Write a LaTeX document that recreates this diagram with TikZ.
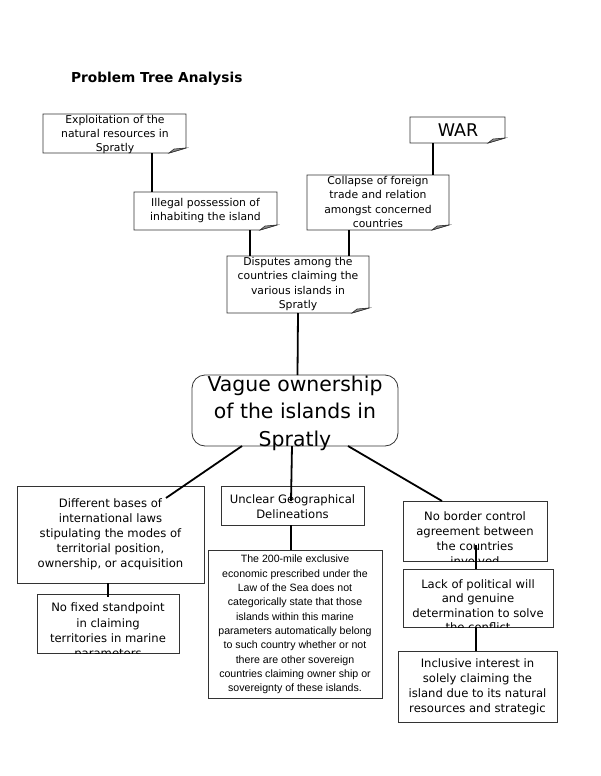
\documentclass[tikz,border=0pt]{standalone}
\usepackage{fontspec}
\setmainfont{DejaVu Sans}
\newfontfamily\arialf{Liberation Sans}
\begin{document}
\begin{tikzpicture}[x=1pt,y=-1pt,
  box/.style={draw=black!80,line width=0.8pt,inner sep=0pt,outer sep=0pt},
  ghost/.style={draw=none,inner sep=0pt,outer sep=0pt},
  conn/.style={draw=black,line width=1.8pt},
  txt/.style={inner sep=0pt,align=center,font=\fontsize{10.8}{14.3}\selectfont},
  txtb/.style={inner sep=0pt,align=center,font=\fontsize{11.6}{15.2}\selectfont},
  fold/.style={fill=black!45,draw=black!80,line width=0.6pt},
  outline/.style={draw=black!80,line width=0.8pt}]
\useasboundingbox[fill=white] (0,0) rectangle (600,776);

% title
\node[anchor=west,inner sep=0pt,font=\bfseries\fontsize{13.7}{16}\selectfont] (title) at (71,78.5) {Problem Tree Analysis};

% ---------- boxes with folded corner ----------
\node[ghost,minimum width=143pt,minimum height=39pt] (ex) at (114.5,133.5) {};
\node[ghost,minimum width=143pt,minimum height=38pt] (il) at (205.5,211) {};
\node[ghost,minimum width=95pt,minimum height=26pt] (war) at (457.5,130) {};
\node[ghost,minimum width=142pt,minimum height=55pt] (col) at (378,202.5) {};
\node[ghost,minimum width=142pt,minimum height=57pt] (dis) at (298,284.5) {};

\foreach \n in {ex,il,war,col,dis}{
  \draw[outline] (\n.north west) -- (\n.north east) -- ([yshift=5pt]\n.south east)
     -- ([xshift=-17pt]\n.south east) -- (\n.south west) -- cycle;
  \filldraw[fold] ([xshift=-17pt]\n.south east) -- ([yshift=5pt]\n.south east)
     -- ([xshift=-12pt,yshift=4pt]\n.south east) -- cycle;
}

% ---------- plain boxes ----------
\node[box,rounded corners=13pt,minimum width=206pt,minimum height=71pt] (vag) at (295,410.5) {};
\node[box,minimum width=187pt,minimum height=97pt] (dif) at (110.5,534.5) {};
\node[box,minimum width=143pt,minimum height=39pt] (unc) at (292.5,505.5) {};
\node[box,minimum width=144pt,minimum height=60pt] (nob) at (475,531) {};
\node[box,minimum width=142pt,minimum height=59pt] (nof) at (108,623.5) {};
\node[box,minimum width=174pt,minimum height=148pt] (sea) at (295,624) {};
\node[box,minimum width=150pt,minimum height=58pt] (lak) at (478,598) {};
\node[box,minimum width=159pt,minimum height=71pt] (inc) at (477.5,686.5) {};

% ---------- texts (clipped to their boxes) ----------
\begin{scope}\clip (ex.south west) rectangle (ex.north east);
\node[txt] (tex) at (115,134.5) {Exploitation of the\\natural resources in\\Spratly};
\end{scope}
\node[txt] (til) at (205.5,210.5) {Illegal possession of\\inhabiting the island};
\node[inner sep=0pt,font=\fontsize{17.5}{20}\selectfont] (twar) at (458,130.5) {WAR};
\begin{scope}\clip (col.south west) rectangle (col.north east);
\node[txt] (tcol) at (378,202) {Collapse of foreign\\trade and relation\\amongst concerned\\countries};
\end{scope}
\begin{scope}\clip (dis.south west) rectangle (dis.north east);
\node[txt] (tdis) at (298,284) {Disputes among the\\countries claiming the\\various islands in\\Spratly};
\end{scope}
\node[inner sep=0pt,align=center,font=\fontsize{20.4}{27.5}\selectfont] (tvag) at (295,413) {Vague ownership\\of the islands in\\Spratly};
\node[txtb,font=\fontsize{11.6}{15}\selectfont] (tdif) at (110.5,534) {Different bases of\\international laws\\stipulating the modes of\\territorial position,\\ownership, or acquisition};
\node[txtb,font=\fontsize{11.6}{15}\selectfont] (tunc) at (292.5,506.5) {Unclear Geographical\\Delineations};
\begin{scope}\clip (nob.south west) rectangle (nob.north east);
\node[txtb] (tnob) at (475,538.5) {No border control\\agreement between\\the countries\\involved};
\end{scope}
\begin{scope}\clip (nof.south west) rectangle (nof.north east);
\node[txtb] (tnof) at (108,631.5) {No fixed standpoint\\in claiming\\territories in marine\\parameters};
\end{scope}
\node[txt,font=\arialf\fontsize{10.6}{14.33}\selectfont] (tsea) at (295,624.5) {The 200-mile exclusive\\economic prescribed under the\\Law of the Sea does not\\categorically state that those\\islands within this marine\\parameters automatically belong\\to such country whether or not\\there are other sovereign\\countries claiming owner ship or\\sovereignty of these islands.};
\begin{scope}\clip (lak.south west) rectangle (lak.north east);
\node[txtb,font=\fontsize{11.6}{14.5}\selectfont] (tlak) at (478,605.5) {Lack of political will\\and genuine\\determination to solve\\the conflict};
\end{scope}
\node[txtb,font=\fontsize{11.6}{15}\selectfont] (tinc) at (477.5,687) {Inclusive interest in\\solely claiming the\\island due to its natural\\resources and strategic};

% ---------- connectors ----------
\draw[conn] ([xshift=37.5pt]ex.south) -- ([xshift=-53.5pt]il.north);
\draw[conn] ([xshift=44.5pt]il.south) -- ([xshift=-48pt]dis.north);
\draw[conn] ([xshift=-24.5pt]war.south) -- ([xshift=55pt]col.north);
\draw[conn] ([xshift=-29pt]col.south) -- ([xshift=51pt]dis.north);
\draw[conn] ([xshift=0pt]dis.south) -- ([xshift=2.5pt]vag.north);
\draw[conn] ([xshift=-53pt]vag.south) -- ([xshift=55.5pt,yshift=-12pt]dif.north);
\draw[conn] ([xshift=-3pt]vag.south) -- ([xshift=-1.5pt,yshift=-15pt]unc.north);
\draw[conn] ([xshift=53pt]vag.south) -- ([xshift=-33pt]nob.north);
\draw[conn] ([xshift=-1.5pt]unc.south) -- ([xshift=-4pt]sea.north);
\draw[conn] ([xshift=-2.5pt]dif.south) -- ([yshift=-3pt]nof.north);
\draw[conn] ([xshift=1pt,yshift=16pt]nob.south) -- ([xshift=-2pt]lak.north);
\draw[conn] ([xshift=-2pt]lak.south) -- ([xshift=-1.5pt]inc.north);
\end{tikzpicture}
\end{document}
